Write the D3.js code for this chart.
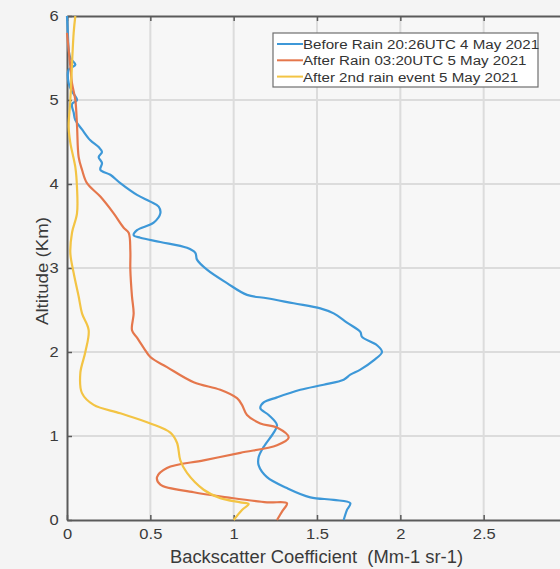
<!DOCTYPE html>
<html>
<head>
<meta charset="utf-8">
<script src="https://cdn.jsdelivr.net/npm/d3@7"></script>
<style>
  html, body { margin: 0; padding: 0; background: #f4f4f4; }
  svg { display: block; font-family: "Liberation Sans", Arial, sans-serif; }
</style>
</head>
<body>
<div id="chart"></div>
<script>
// Backscatter profiles, [coefficient, altitude km]
const seriesNames = [
  'Before Rain 20:26UTC 4 May 2021',
  'After Rain 03:20UTC 5 May 2021',
  'After 2nd rain event 5 May 2021'
];
const seriesColors = ['#3d98d8', '#e5774c', '#f3c444'];

const beforeRain = [
  [0.00, 6.00], [0.005, 5.80], [0.01, 5.60], [0.02, 5.50], [0.05, 5.42], [0.01, 5.36],
  [0.01, 5.20], [0.03, 5.10], [0.06, 5.00], [0.03, 4.95], [0.04, 4.85], [0.05, 4.76],
  [0.09, 4.65], [0.14, 4.52], [0.19, 4.44], [0.21, 4.38], [0.19, 4.32], [0.21, 4.25],
  [0.20, 4.17], [0.26, 4.11], [0.32, 4.01], [0.42, 3.87], [0.50, 3.79], [0.55, 3.73],
  [0.56, 3.65], [0.52, 3.54], [0.42, 3.45], [0.40, 3.39], [0.44, 3.36], [0.56, 3.31],
  [0.72, 3.24], [0.77, 3.18], [0.78, 3.10], [0.84, 2.98], [0.96, 2.82], [1.08, 2.68],
  [1.20, 2.64], [1.36, 2.58], [1.52, 2.52], [1.60, 2.46], [1.68, 2.35], [1.76, 2.24],
  [1.77, 2.18], [1.86, 2.08], [1.89, 2.00], [1.84, 1.90], [1.76, 1.79], [1.70, 1.73],
  [1.66, 1.67], [1.54, 1.61], [1.40, 1.55], [1.26, 1.46], [1.18, 1.40], [1.16, 1.33],
  [1.21, 1.25], [1.26, 1.13], [1.24, 1.04], [1.18, 0.87], [1.15, 0.75], [1.15, 0.65],
  [1.20, 0.51], [1.32, 0.38], [1.46, 0.27], [1.60, 0.24], [1.70, 0.20], [1.68, 0.12],
  [1.66, 0.00]
];

const afterRain = [
  [0.00, 5.80], [0.01, 5.60], [0.02, 5.40], [0.03, 5.20], [0.05, 5.00], [0.06, 4.70],
  [0.07, 4.32], [0.09, 4.17], [0.12, 4.01], [0.20, 3.85], [0.28, 3.65], [0.34, 3.48],
  [0.37, 3.42], [0.38, 3.21], [0.38, 2.98], [0.39, 2.66], [0.40, 2.46], [0.39, 2.26],
  [0.42, 2.17], [0.46, 2.05], [0.50, 1.94], [0.60, 1.82], [0.76, 1.64], [0.92, 1.55],
  [1.02, 1.45], [1.05, 1.37], [1.08, 1.25], [1.16, 1.15], [1.26, 1.10], [1.33, 0.98],
  [1.26, 0.89], [1.04, 0.80], [0.82, 0.71], [0.60, 0.62], [0.54, 0.51], [0.56, 0.42],
  [0.76, 0.33], [0.96, 0.27], [1.20, 0.21], [1.32, 0.20], [1.29, 0.10], [1.26, 0.00]
];

const afterSecondRain = [
  [0.05, 6.00], [0.04, 5.80], [0.02, 5.00], [0.01, 4.68], [0.02, 4.49], [0.05, 4.20],
  [0.06, 3.96], [0.06, 3.65], [0.03, 3.42], [0.02, 3.18], [0.04, 2.94], [0.07, 2.66],
  [0.09, 2.46], [0.13, 2.26], [0.11, 2.00], [0.08, 1.75], [0.09, 1.51], [0.16, 1.37],
  [0.32, 1.27], [0.50, 1.15], [0.62, 1.04], [0.66, 0.92], [0.68, 0.71], [0.72, 0.56],
  [0.82, 0.36], [0.92, 0.26], [1.04, 0.21], [1.09, 0.19], [1.05, 0.12], [1.00, 0.00]
];

const xTicks = [0, 0.5, 1, 1.5, 2, 2.5, 3];
const xTickLabels = ['0', '0.5', '1', '1.5', '2', '2.5', '']; // 3 falls outside the crop
const yTicks = [0, 1, 2, 3, 4, 5, 6];

const width = 560, height = 569;
const margin = { top: 16, left: 67, bottom: 49 };
const plotRight = 567; // axes run past the crop on the right

const svg = d3.select('#chart').append('svg')
  .attr('width', width)
  .attr('height', height);

svg.append('rect').attr('width', width).attr('height', height).attr('fill', '#f4f4f4');

const x = d3.scaleLinear().domain([0, 3]).range([margin.left, plotRight]);
const y = d3.scaleLinear().domain([0, 6]).range([height - margin.bottom, margin.top]);

// plot area
svg.append('rect')
  .attr('x', x(0)).attr('y', y(6))
  .attr('width', x(3) - x(0)).attr('height', y(0) - y(6))
  .attr('fill', '#f7f7f7');

// grid
svg.append('g').selectAll('line').data(xTicks.slice(1, -1)).join('line')
  .attr('x1', d => x(d)).attr('x2', d => x(d))
  .attr('y1', y(0)).attr('y2', y(6))
  .attr('stroke', '#dcdcdc').attr('stroke-width', 2);
svg.append('g').selectAll('line').data(yTicks.slice(1, -1)).join('line')
  .attr('x1', x(0)).attr('x2', x(3))
  .attr('y1', d => y(d)).attr('y2', d => y(d))
  .attr('stroke', '#dcdcdc').attr('stroke-width', 2);

// axes, MATLAB style inward ticks
const axisColor = '#5a5a5a';
const styleAxis = g => {
  g.select('.domain').attr('stroke', axisColor).attr('stroke-width', 2);
  g.selectAll('.tick line').attr('stroke', axisColor).attr('stroke-width', 1.5);
  g.selectAll('.tick text')
    .attr('fill', '#3a3a3a')
    .attr('font-size', 14)
    .attr('transform', 'scale(1.18,1)');
};

svg.append('g')
  .attr('transform', `translate(0,${y(0)})`)
  .call(d3.axisBottom(x).tickValues(xTicks).tickFormat((d, i) => xTickLabels[i])
    .tickSizeInner(-5).tickSizeOuter(0).tickPadding(9))
  .call(styleAxis);

svg.append('g')
  .attr('transform', `translate(0,${y(6)})`)
  .call(d3.axisTop(x).tickValues(xTicks).tickFormat('').tickSizeInner(-5).tickSizeOuter(0))
  .call(styleAxis);

svg.append('g')
  .attr('transform', `translate(${x(0)},0)`)
  .call(d3.axisLeft(y).tickValues(yTicks).tickFormat(d3.format('d'))
    .tickSizeInner(-5).tickSizeOuter(0).tickPadding(7))
  .call(styleAxis);

// profiles
const line = d3.line()
  .x(d => x(d[0]))
  .y(d => y(d[1]))
  .curve(d3.curveCatmullRom.alpha(0.5));

[beforeRain, afterRain, afterSecondRain].forEach((s, i) => {
  svg.append('path')
    .datum(s)
    .attr('fill', 'none')
    .attr('stroke', seriesColors[i])
    .attr('stroke-width', 2.2)
    .attr('stroke-linejoin', 'round')
    .attr('d', line);
});

// axis labels
svg.append('text')
  .attr('x', 170).attr('y', 563)
  .attr('font-size', 17.5)
  .attr('fill', '#3a3a3a')
  .attr('textLength', 293)
  .attr('lengthAdjust', 'spacingAndGlyphs')
  .style('white-space', 'pre')
  .text('Backscatter Coefficient  (Mm-1 sr-1)');

svg.append('text')
  .attr('transform', 'translate(48,325) rotate(-90)')
  .attr('font-size', 17)
  .attr('fill', '#3a3a3a')
  .attr('textLength', 108)
  .attr('lengthAdjust', 'spacingAndGlyphs')
  .text('Altitude (Km)');

// legend
const legend = svg.append('g').attr('transform', 'translate(273,33)');
legend.append('rect')
  .attr('width', 265).attr('height', 54)
  .attr('fill', '#ffffff').attr('stroke', '#6e6e6e').attr('stroke-width', 1.2);
seriesNames.forEach((name, i) => {
  const ly = 11 + i * 16.3;
  legend.append('line')
    .attr('x1', 4).attr('x2', 30).attr('y1', ly).attr('y2', ly)
    .attr('stroke', seriesColors[i]).attr('stroke-width', 2);
  legend.append('text')
    .attr('transform', `translate(30,${ly + 5}) scale(1.12,1)`)
    .attr('font-size', 13.5)
    .attr('fill', '#333')
    .text(name);
});
</script>
</body>
</html>
